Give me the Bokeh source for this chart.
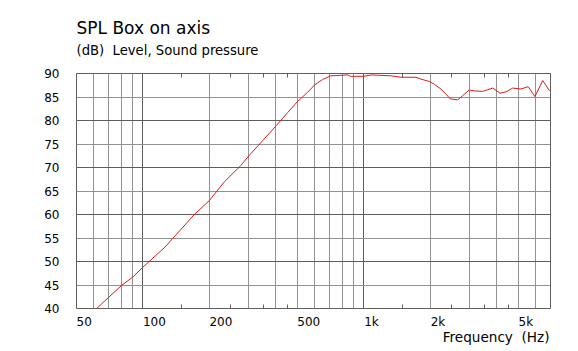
from bokeh.plotting import figure
from bokeh.models import FixedTicker, Grid, LogAxis, Title, ColumnDataSource
from bokeh.embed import file_html
from bokeh.resources import INLINE

# ---- data ----
freq_hz = [61.7, 70, 80, 90, 100, 126, 170, 200, 233, 277, 303, 348, 401, 452,
           500, 556, 600, 650, 706, 846, 870, 1000, 1078, 1330, 1472, 1722, 1815,
           1980, 2085, 2234, 2354, 2463, 2662, 2804, 3003, 3163, 3451, 3834, 4136,
           4401, 4720, 5148, 5544, 5953, 6454, 6934]
spl_db = [40.0, 42.4, 44.9, 46.7, 48.8, 53.1, 59.9, 63.0, 66.9, 70.4, 72.6, 75.7, 78.9, 81.7,
          84.0, 86.0, 87.6, 88.7, 89.5, 89.7, 89.4, 89.4, 89.7, 89.5, 89.2, 89.2, 88.8,
          88.3, 87.7, 86.7, 85.6, 84.6, 84.4, 85.3, 86.5, 86.3, 86.2, 86.9, 85.8,
          86.1, 86.9, 86.7, 87.2, 85.1, 88.5, 86.3]

x_tick_values = [50, 100, 200, 500, 1000, 2000, 5000]
x_tick_labels = ["50", "100", "200", "500", "1k", "2k", "5k"]
x_minor_ticks = [150, 250, 350, 450, 1500, 2500, 3500, 4500]
x_grid_light = [60, 70, 80, 90, 200, 300, 400, 500, 600, 700, 800, 900,
                2000, 3000, 4000, 5000, 6000]
x_grid_dark = [100, 1000]
y_ticks = [40, 45, 50, 55, 60, 65, 70, 75, 80, 85, 90]
y_grid_light = [45, 55, 65, 75, 85]
y_grid_dark = [50, 60, 70, 80]

NBSP = "\u00a0"
title_text = "SPL Box on axis"
subtitle_text = "(dB)" + NBSP + NBSP + "Level, Sound pressure"
x_label = "Frequency" + NBSP + NBSP + "(Hz)"

X_MIN, X_MAX = 50, 7000
Y_MIN, Y_MAX = 40, 90

FONT = "DejaVu Sans"
LIGHT = "#929292"
DARK = "#5e5e5e"


def left_anchor(label):
    # pad with no-break spaces (half a digit wide) so that a centred label
    # starts at its tick, as in the reference
    return NBSP * (2 * len(label)) + label


p = figure(width=578, height=351, x_axis_type="log", x_range=(X_MIN, X_MAX),
           y_range=(Y_MIN, Y_MAX), output_backend="svg", toolbar_location=None,
           min_border_left=76, min_border_right=28, min_border_top=73, min_border_bottom=43,
           background_fill_color="white", border_fill_color="white")
p.outline_line_color = DARK
p.outline_line_width = 1
p.grid.grid_line_color = None

for ticks, col in ((x_grid_light, LIGHT), (x_grid_dark, DARK)):
    p.add_layout(Grid(dimension=0, ticker=FixedTicker(ticks=ticks), grid_line_color=col,
                      grid_line_width=1))
for ticks, col in ((y_grid_light, LIGHT), (y_grid_dark, DARK)):
    p.add_layout(Grid(dimension=1, ticker=FixedTicker(ticks=ticks), grid_line_color=col,
                      grid_line_width=1))

src = ColumnDataSource(data=dict(f=freq_hz, db=spl_db))
p.line("f", "db", source=src, line_color="#e01b1b", line_width=1)

# y axis
ya = p.yaxis[0]
ya.ticker = FixedTicker(ticks=y_ticks)
ya.axis_line_color = None
ya.major_tick_line_color = None
ya.minor_tick_line_color = None
ya.major_tick_out = 0
ya.major_tick_in = 0
ya.major_label_standoff = 17
ya.major_label_text_font = FONT
ya.major_label_text_font_size = "12px"
ya.major_label_text_color = "black"

# bottom axis
xa = p.xaxis[0]
xa.ticker = FixedTicker(ticks=x_tick_values, minor_ticks=x_minor_ticks)
xa.major_label_overrides = {v: left_anchor(l) for v, l in zip(x_tick_values, x_tick_labels)}
xa.axis_line_color = None
xa.major_tick_line_color = None
xa.major_tick_out = 0
xa.major_tick_in = 0
xa.minor_tick_line_color = DARK
xa.minor_tick_in = 4
xa.minor_tick_out = 0
xa.major_label_standoff = 6
xa.major_label_text_font = FONT
xa.major_label_text_font_size = "12px"
xa.major_label_text_color = "black"

# top axis with minor ticks only
ta = LogAxis(ticker=FixedTicker(ticks=[], minor_ticks=x_minor_ticks))
ta.axis_line_color = None
ta.major_tick_line_color = None
ta.major_tick_out = 0
ta.major_label_text_color = None
ta.minor_tick_line_color = DARK
ta.minor_tick_in = 4
ta.minor_tick_out = 0
ta.major_label_text_font_size = "1px"
ta.major_label_standoff = 0
p.add_layout(ta, "above")

p.add_layout(Title(text=x_label, align="right", offset=1, vertical_align="top",
                   text_font=FONT, text_font_size="13.6px", text_font_style="normal",
                   text_color="black", standoff=-5), "below")
p.add_layout(Title(text=subtitle_text, align="left", text_font=FONT, text_font_size="13.2px",
                   text_font_style="normal", text_color="black", standoff=31), "above")
p.add_layout(Title(text=title_text, align="left", text_font=FONT, text_font_size="17px",
                   text_font_style="normal", text_color="black", standoff=-25), "above")

open("out.html", "w").write(file_html(p, INLINE))
